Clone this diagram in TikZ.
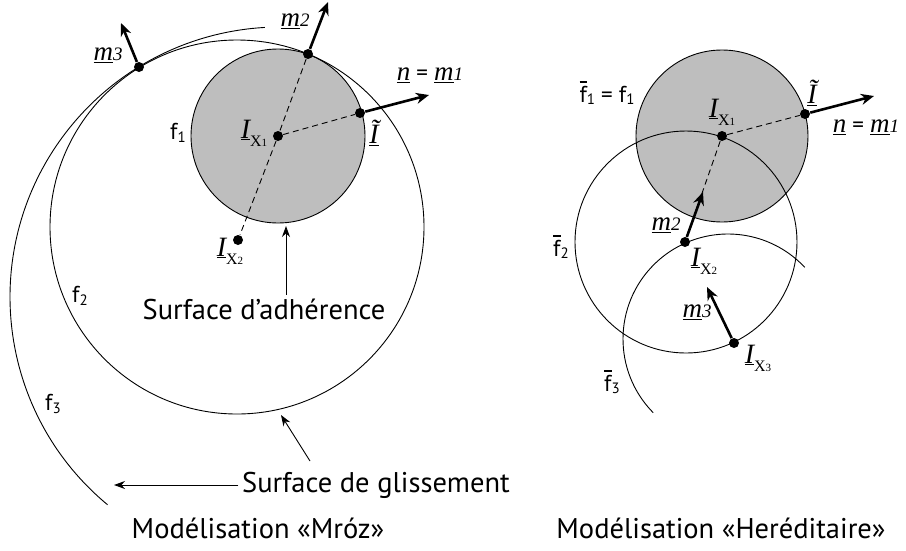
\documentclass[tikz,border=0pt]{standalone}
\usepackage{fontspec}
\setmainfont{PT Sans}
\newfontfamily\mfont{Liberation Serif}
\usetikzlibrary{arrows.meta}
\definecolor{adhgray}{RGB}{190,190,190}
\newcommand\vm[2]{{\mfont\itshape\fontsize{27}{27}\selectfont\underline{#1}{\fontsize{19}{19}\selectfont #2}}}
\newcommand\Ix[1]{{\mfont\itshape\fontsize{28}{28}\selectfont\underline{I}}{\mfont\fontsize{16}{16}\selectfont\raisebox{-1.1ex}{X{\fontsize{11}{11}\selectfont #1}}}}
\newcommand\It{{\mfont\itshape\fontsize{28}{28}\selectfont\underline{\~I}}}
\newcommand\fn[1]{f\raisebox{-.2ex}{\fontsize{15}{15}\selectfont #1}}
\newcommand\fbn[1]{\rlap{\rule[.84em]{.32em}{.07em}}f\raisebox{-.2ex}{\fontsize{15}{15}\selectfont #1}}

\begin{document}
\begin{tikzpicture}[x=1pt,y=-1pt,line width=.9pt,
  dashed/.style={dash pattern=on 6pt off 4pt},
  dot/.style={circle,fill,inner sep=0pt,minimum size=10pt},
  vec/.style={line width=2.6pt,-{Stealth[length=13pt,width=11pt]}},
  lead/.style={line width=.9pt,-{Stealth[length=11pt,width=8pt]}},
  captxt/.style={font=\fontsize{28.5}{32}\selectfont},
  lbl/.style={font=\fontsize{23}{26}\selectfont,inner sep=1pt}]
  \useasboundingbox (0,0) rectangle (906,550);
  % modelisation de Mroz
  \begin{scope}
    \draw[fill=adhgray] (278,136) circle[radius=87];
    \draw (237,227) circle[radius=187];
    \draw (280,297) ++(129.7:270) arc[start angle=129.7,end angle=266.8,radius=270];
    \node[dot] (m3) at (139,67) {};
    \node[dot] (m2) at (308,54) {};
    \node[dot] (Ix1) at (278,136) {};
    \node[dot] (It) at (360,113) {};
    \node[dot] (Ix2) at (238,240) {};
    \coordinate (m3t) at (121,23);
    \coordinate (m2t) at (328,2);
    \coordinate (nt) at (429,95);
    \draw[dashed] (m2) -- (Ix1) -- (Ix2) (Ix1) -- (It);
    \draw[vec] (m3) -- (m3t);
    \draw[vec] (m2) -- (m2t);
    \draw[vec] (It) -- (nt);
    \node[lbl] at (108,55) {\vm{m}{3}};
    \node[lbl] at (295,21) {\vm{m}{2}};
    \node[lbl] at (430,75) {\vm{n}{} = \vm{m}{1}};
    \node[lbl] at (374,133) {\It};
    \node[lbl] at (254,133) {\Ix1};
    \node[lbl] at (230,251) {\Ix2};
    \node[lbl] at (178,133) {\fn1};
    \node[lbl] at (80,296) {\fn2};
    \node[lbl] at (53,404) {\fn3};
    \node[captxt] (adh) at (264,309) {Surface d'adhérence};
    \coordinate (adht) at (286,226);
    \draw[lead] (adh.north -| adht) -- (adht);
    \node[captxt] (gli) at (376,485) {Surface de glissement};
    \coordinate (glit) at (114,485);
    \coordinate (glis) at (310,461);
    \coordinate (glit2) at (281,415);
    \draw[lead] (gli.west) -- (glit);
    \draw[lead] (glis) -- (glit2);
    \node[captxt] (tmroz) at (258,528) {Modélisation «Mróz»};
  \end{scope}
  % modelisation hereditaire
  \begin{scope}
    \draw[fill=adhgray] (722,136) circle[radius=86];
    \draw (686,242) circle[radius=111];
    \draw (728,339) ++(135.4:105) arc[start angle=135.4,end angle=317,radius=105];
    \node[dot] (rIx1) at (722,136) {};
    \node[dot] (rIt) at (805,114) {};
    \node[dot] (rIx2) at (685,242) {};
    \node[dot] (rIx3) at (734,343) {};
    \coordinate (rnt) at (874,96);
    \coordinate (rm2t) at (703,192);
    \coordinate (rm3t) at (707,287);
    \draw[dashed] (rIx1) -- (rIt) (rIx1) -- (rIx2);
    \draw[vec] (rIt) -- (rnt);
    \draw[vec] (rIx2) -- (rm2t);
    \draw[vec] (rIx3) -- (rm3t);
    \node[lbl] at (607,93) {\fbn1 = \fn1};
    \node[lbl] at (722,112) {\Ix1};
    \node[lbl] at (812,93) {\It};
    \node[lbl] at (866,127) {\vm{n}{} = \vm{m}{1}};
    \node[lbl] at (666,225) {\vm{m}{2}};
    \node[lbl] at (704,261) {\Ix2};
    \node[lbl] at (561,247) {\fbn2};
    \node[lbl] at (697,312) {\vm{m}{3}};
    \node[lbl] at (758,358) {\Ix3};
    \node[lbl] at (612,382) {\fbn3};
    \node[captxt] (there) at (721,528) {Modélisation «Heréditaire»};
  \end{scope}
\end{tikzpicture}
\end{document}
